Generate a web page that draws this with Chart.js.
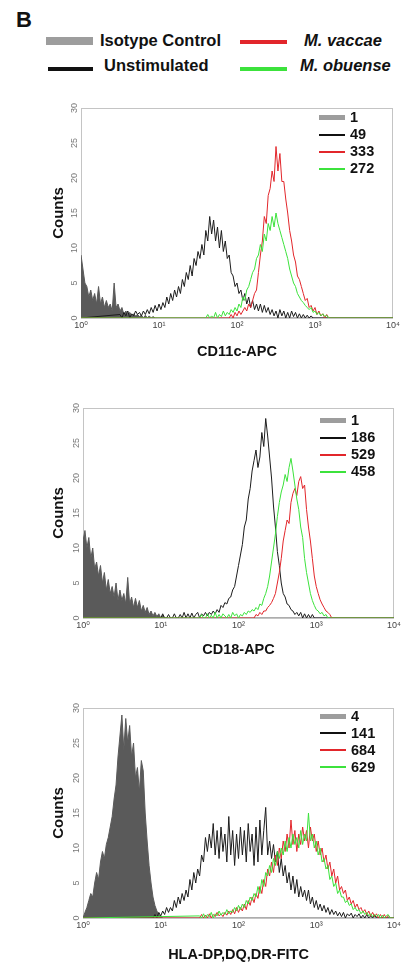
<!DOCTYPE html>
<html>
<head>
<meta charset="utf-8">
<script src="https://cdn.jsdelivr.net/npm/chart.js@4.4.1/dist/chart.umd.min.js"></script>
<style>
  html, body { margin:0; padding:0; background:#fff; }
  body { width:406px; height:969px; position:relative; overflow:hidden;
         font-family:"Liberation Sans", Arial, Helvetica, sans-serif; }
  canvas { position:absolute; }
  .t { position:absolute; font-weight:bold; color:#111; white-space:nowrap; line-height:1; }
  .s { position:absolute; }
</style>
</head>
<body>
<script>
// ---------------- data ----------------
const tickLabels = ['10\u2070', '10\u00B9', '10\u00B2', '10\u00B3', '10\u2074'];
const seriesNames = ['Isotype Control', 'Unstimulated', 'M. vaccae', 'M. obuense'];
const panelTitles = ['CD11c-APC', 'CD18-APC', 'HLA-DP,DQ,DR-FITC'];
const cd11cMFI = [1, 49, 333, 272];
const cd18MFI = [1, 186, 529, 458];
const hlaMFI = [4, 141, 684, 629];
const binWidth = 0.025; // decades per histogram channel

// CD11c-APC (log10 start of each series)
const cd11cStart = [0, 0.5, 1.9, 1.6];
const cd11cIsotype = [9, 7, 5, 4.5, 3, 4, 2.5, 3.5, 2, 4.5, 2, 3, 1.5, 2.5, 1.5, 2, 1, 5, 1.5, 2, 1, 1.5, 0.5, 1, 0.5, 0.8, 0.3, 0.6, 0.3, 0.5, 0.2, 0.4, 0, 0.4, 0, 0.3, 0, 0.2, 0];
const cd11cUnstim = [0.5, 0, 0.8, 0.3, 1, 0, 0.6, 0.3, 1, 0.5, 0.8, 0.3, 1, 0.5, 1.2, 0.6,
  1.5, 0.8, 1.8, 1, 2, 1.2, 2.2, 1.5, 3, 2, 3.5, 2.5, 4, 3, 4.5, 3.5, 5.5, 4.5, 6.5, 5.5, 7.5, 6, 8.5, 7.5,
  9.5, 8.5, 10.5, 9, 12.5, 11, 14.5, 12, 14, 11, 13, 10, 12.5, 9.5, 11, 8.5, 9, 6.5, 6, 4.5,
  5, 3.5, 4, 2.5, 3.5, 2, 3, 1.5, 2.5, 1.2, 2, 1, 2, 0.8, 1.8, 0.8, 1.5, 0.5, 1.2, 0.3,
  1, 0, 1.2, 0.3, 1, 0, 0.8, 0, 1, 0.2, 0.8, 0, 0.6, 0, 0.5, 0, 0.4, 0, 0.3, 0];
const cd11cVaccae = [0, 0.5, 0, 0.8, 0.3, 1, 0.5, 1, 1.5, 1, 2, 1.5, 2.5, 3.5, 4, 6.5, 9, 11, 14.5, 13.5,
  17.5, 18.5, 21, 19.5, 24.5, 21, 23.5, 19.5, 19.5, 17, 15, 12.5, 11, 9, 8, 6, 5.5, 4.5, 3.5, 2.5,
  2.8, 1.5, 1.8, 1, 1.5, 0.5, 1, 0.3, 0.6, 0, 0.5, 0];
const cd11cObuense = [0, 0.5, 0, 0.3, 0, 0.8, 0, 0.5, 0.2, 1, 0.3, 0.8, 0.5, 1.2, 0.8, 1.5, 1, 2, 1.5, 3,
  2.5, 4, 4.5, 5.5, 6.5, 7, 8.5, 9, 10.5, 9.5, 12, 11, 13.5, 12.5, 14.5, 13, 15, 13.5, 12.5, 11.5,
  10.5, 9.5, 8.5, 7, 6, 5, 4.5, 3.5, 3, 2.5, 2.2, 1.8, 1.5, 1.2, 1.5, 0.8, 1, 0.5, 0.8, 0.3,
  0.6, 0.2, 0.4, 0];

// CD18-APC
const cd18Start = [0, 1.0, 2.2, 1.5];
const cd18Isotype = [11, 12.5, 10, 11.5, 8.5, 10, 7, 8, 6, 7.5, 5, 6.5, 4, 5.5, 3.5, 4.5, 3, 5, 2.5, 4,
  2.5, 3.5, 2, 5.8, 2, 3, 1.5, 2.8, 1.5, 2.5, 1, 1.8, 0.8, 1.5, 0.5, 1, 0.3, 0.8, 0.2, 0.6, 0, 0.4, 0];
const cd18Unstim = [0, 0.6, 0, 0, 0.5, 0, 0, 0.6, 0, 0, 0.5, 0, 0.8, 0, 0.6, 0, 0.7, 0, 0.5, 0.8,
  0, 0.6, 0.3, 0.8, 0.3, 0.8, 0.5, 1, 0.6, 1.2, 0.8, 1.8, 1.5, 2.2, 2, 2.8, 3, 4, 4.5, 6,
  7.5, 9, 10.5, 13, 14, 17, 18.5, 21, 22.5, 24, 21.5, 23, 26.5, 24.5, 28.5, 26, 23, 20, 16, 13,
  9.5, 7.5, 5, 3.5, 3, 2, 1.8, 1.2, 1, 0.5, 0.8, 0.3, 0.8, 0, 0.6, 0, 0.5, 0, 0.5, 0];
const cd18Vaccae = [0, 0.5, 0.3, 0.8, 0.5, 1, 1, 1.5, 1.8, 2.2, 2.8, 3.5, 5, 6.5, 8.5, 11, 12.5, 14, 13.5, 16.5,
  17.8, 18.5, 17.5, 19.5, 20.2, 18.5, 19, 15.5, 13, 11, 8.5, 6, 4.5, 3.5, 2.6, 2, 1.5, 1, 0.8, 0.5, 0];
const cd18Obuense = [0, 0.5, 0, 0, 0.6, 0, 0.4, 0, 0.8, 0, 0.5, 0, 0.6, 0.3, 0, 0.5, 0, 0.8, 0.3, 0.6,
  0, 0.5, 0.3, 0.8, 0.5, 1, 0.8, 1.2, 1, 1.5, 1.2, 2, 1.8, 2.8, 3.5, 4.5, 6, 8, 10, 12,
  14.5, 16.5, 18, 19, 20.5, 19.5, 21.5, 22.8, 21, 19, 17, 15.5, 13, 11.5, 8.5, 6.5, 5, 3.5, 2.5, 1.8,
  1.2, 1, 0.6, 0.8, 0.3, 0.5, 0];

// HLA-DP,DQ,DR-FITC
const hlaStart = [0, 0.9, 1.5, 1.5];
const hlaIsotype = [0, 0.8, 1.5, 2.5, 3.5, 3, 5, 6.5, 5.5, 8, 9.5, 8.5, 10.5, 11.5, 13, 14.5, 17, 19, 23, 26,
  29, 24, 28.5, 25, 27.5, 23, 25, 20, 21.5, 18, 22.5, 21, 15, 11, 7.5, 5, 3, 1.8, 1, 0.5, 0.3, 0];
const hlaUnstim = [0, 0.5, 0, 0.8, 0.3, 1, 0.5, 1.5, 0.8, 1.5, 1, 2.5, 1.5, 3, 2, 3.5, 2.5, 4, 3, 5.5,
  4, 6.5, 5, 7, 6, 9, 8, 11.5, 9.5, 12, 10, 13.5, 9, 12.5, 8.5, 13, 9.5, 12, 8, 14.5,
  9, 12.5, 7.5, 12, 8.5, 13, 9, 12.5, 8, 13.5, 9.5, 12, 7.5, 13, 8, 14, 9, 12.5, 15.8, 9,
  11, 8.5, 10.5, 8, 9.5, 6.5, 8.5, 6, 7.5, 5, 6.5, 4, 6, 3.5, 5.5, 3, 4.5, 3, 4, 2.5,
  4, 2, 3, 1.5, 2.5, 1.2, 2, 1, 1.8, 0.8, 1.5, 0.5, 1.2, 0.5, 1, 0.3, 0.8, 0.2, 0.8, 0,
  0.6, 0.3, 0.7, 0, 0.5, 0.2, 0.6, 0, 0.4, 0, 0.5, 0, 0.3, 0, 0.4, 0, 0];
const hlaVaccae = [0, 0.5, 0, 0.4, 0, 0.6, 0, 0.5, 0.2, 0.8, 0.3, 0.6, 0.2, 0.8, 0.4, 1, 0.5, 1.2, 0.6, 1.5,
  0.8, 1.5, 1, 2, 1.2, 2.5, 1.8, 3, 2.2, 3.5, 2.8, 4.5, 3.5, 5.5, 4.5, 7, 6, 8, 6.5, 9,
  7.5, 10, 8.5, 11, 9.5, 12, 10, 14, 10.5, 12.5, 9.5, 12, 10.5, 13, 11, 12.5, 10, 13, 11, 12,
  9.5, 11, 9, 10, 8, 9, 7, 8, 6, 7, 5, 6, 4, 4.5, 3.5, 4, 2.5, 3, 2, 2.5,
  1.5, 2, 1.2, 1.5, 0.8, 1.2, 0.5, 1, 0.3, 0.8, 0.2, 0.6, 0, 0.5, 0, 0.5, 0, 0.4, 0];
const hlaObuense = [0.3, 0, 0.6, 0, 0.5, 0.2, 0.8, 0, 0.6, 0.3, 1, 0.4, 0.8, 0.5, 1.2, 0.6, 1, 0.8, 1.5, 1,
  1.8, 1.2, 2, 1.5, 2.5, 2, 3, 2.5, 3.5, 3, 4.5, 3.5, 5.5, 4.5, 6.5, 6, 7.5, 6.5, 8.5, 7.5,
  9.5, 8.5, 10, 9, 11, 9.5, 11.5, 10, 12, 10.5, 11.5, 10, 12.5, 10.5, 12, 11, 15, 11, 12, 10,
  11, 9, 10, 8, 8.5, 7, 7.5, 5.5, 6, 4.5, 5, 3.5, 4, 3, 3, 2.2, 2.5, 1.8, 2, 1.2,
  1.5, 1, 1.2, 0.6, 1, 0.5, 0.8, 0.3, 0.6, 0.2, 0.5, 0.2, 0.5, 0, 0.4, 0, 0.3, 0.5, 0];

const panels = [
  { title: panelTitles[0], mfi: cd11cMFI, starts: cd11cStart, series: [cd11cIsotype, cd11cUnstim, cd11cVaccae, cd11cObuense] },
  { title: panelTitles[1], mfi: cd18MFI,  starts: cd18Start,  series: [cd18Isotype, cd18Unstim, cd18Vaccae, cd18Obuense] },
  { title: panelTitles[2], mfi: hlaMFI,   starts: hlaStart,   series: [hlaIsotype, hlaUnstim, hlaVaccae, hlaObuense] }
];

// ---------------- styles / layout ----------------
const lineColors = ['#5a5a5a', '#1c1c1c', '#e2262b', '#3ce23c'];
const swatchColors = ['#9d9d9d', '#111111', '#e2262b', '#3ce23c'];
const fontFam = '"Liberation Sans", Arial, "DejaVu Sans", sans-serif';
const boxes = [
  { top: 100, height: 265, yW: 41, xH: 47, padRight: 13, legendTop: 9.5 },
  { top: 400, height: 263, yW: 43, xH: 45, padRight: 12, legendTop: 12.5 },
  { top: 700, height: 268, yW: 43, xH: 50, padRight: 12, legendTop: 8 }
];
const canvasLeft = 40, canvasWidth = 366;

Chart.defaults.font.family = fontFam;

function addText(txt, x, cy, size, italic) {
  const d = document.createElement('div');
  d.className = 't';
  d.textContent = txt;
  d.style.left = x + 'px';
  d.style.top = (cy - size / 2) + 'px';
  d.style.fontSize = size + 'px';
  if (italic) d.style.fontStyle = 'italic';
  document.body.appendChild(d);
}
function addSwatch(x, y, w, h, color) {
  const d = document.createElement('div');
  d.className = 's';
  d.style.left = x + 'px'; d.style.top = y + 'px';
  d.style.width = w + 'px'; d.style.height = h + 'px';
  d.style.background = color;
  document.body.appendChild(d);
}

// top legend
addText('B', 16, 20, 22, false);
addSwatch(46, 37, 47, 8, swatchColors[0]);
addText(seriesNames[0], 100, 40.5, 16.5, false);
addSwatch(240, 39.5, 47, 4, swatchColors[2]);
addText(seriesNames[2], 304, 40.5, 16.5, true);
addSwatch(48, 67, 45, 4, swatchColors[1]);
addText(seriesNames[1], 104, 65, 16.5, false);
addSwatch(240, 67, 47, 4, swatchColors[3]);
addText(seriesNames[3], 300, 65, 16.5, true);

const framePlugin = {
  id: 'frame',
  beforeDatasetsDraw(chart) {
    const { ctx, chartArea: a } = chart;
    ctx.save();
    ctx.strokeStyle = '#c4c4c4';
    ctx.lineWidth = 1;
    ctx.strokeRect(a.left + 0.5, a.top + 0.5, a.right - a.left - 1, a.bottom - a.top);
    ctx.restore();
  }
};

function toPoints(start, vals) {
  const pts = [];
  if (start > 0) pts.push({ x: 0, y: 0 });
  vals.forEach((v, i) => pts.push({ x: +(start + i * binWidth).toFixed(3), y: v }));
  pts.push({ x: 4, y: 0 });
  return pts;
}

panels.forEach((p, pi) => {
  const b = boxes[pi];
  const cv = document.createElement('canvas');
  cv.width = canvasWidth; cv.height = b.height;
  cv.style.left = canvasLeft + 'px'; cv.style.top = b.top + 'px';
  cv.style.width = canvasWidth + 'px'; cv.style.height = b.height + 'px';
  document.body.appendChild(cv);

  const datasets = p.series.map((vals, si) => ({
    label: seriesNames[si],
    data: toPoints(p.starts[si], vals),
    borderColor: lineColors[si],
    backgroundColor: lineColors[si],
    borderWidth: 1,
    fill: si === 0 ? 'origin' : false,
    pointRadius: 0,
    tension: 0,
    order: 4 - si
  }));

  const chart = new Chart(cv, {
    type: 'line',
    data: { datasets },
    options: {
      responsive: false,
      animation: false,
      devicePixelRatio: 1,
      parsing: true,
      layout: { padding: { top: 8, right: b.padRight, bottom: 0, left: 0 } },
      plugins: { legend: { display: false }, tooltip: { enabled: false } },
      scales: {
        x: {
          type: 'linear', min: 0, max: 4,
          grid: { display: false, drawTicks: false },
          border: { display: false },
          ticks: {
            stepSize: 1, autoSkip: false, maxRotation: 0, padding: 2,
            color: '#444', font: { size: 9 },
            callback: (v) => tickLabels[v]
          },
          title: {
            display: true, text: p.title, color: '#111',
            font: { size: 14.5, weight: 'bold' },
            padding: { top: 0, bottom: 4.3 }
          },
          afterFit: (s) => { s.height = b.xH; }
        },
        y: {
          min: 0, max: 30,
          grid: { display: false, drawTicks: false },
          border: { display: false },
          ticks: {
            stepSize: 5, minRotation: 90, maxRotation: 90, crossAlign: 'center', padding: 1,
            color: '#777', font: { size: 9 }
          },
          title: {
            display: true, text: 'Counts', color: '#111',
            font: { size: 15, weight: 'bold' },
            padding: { top: 9.5, bottom: 0 }
          },
          afterFit: (s) => { s.width = b.yW; }
        }
      }
    },
    plugins: [framePlugin]
  });

  // in-plot legend with MFI values
  const ca = chart.chartArea;
  const rx = canvasLeft + ca.right;
  const ty = b.top + ca.top + b.legendTop;
  p.mfi.forEach((m, k) => {
    const cy = ty + k * 17;
    if (k === 0) addSwatch(rx - 74, cy - 2.5, 26, 5, swatchColors[0]);
    else addSwatch(rx - 74, cy - 1, 26, 2, swatchColors[k]);
    addText(String(m), rx - 43, cy, 14.5, false);
  });
});
</script>
</body>
</html>
